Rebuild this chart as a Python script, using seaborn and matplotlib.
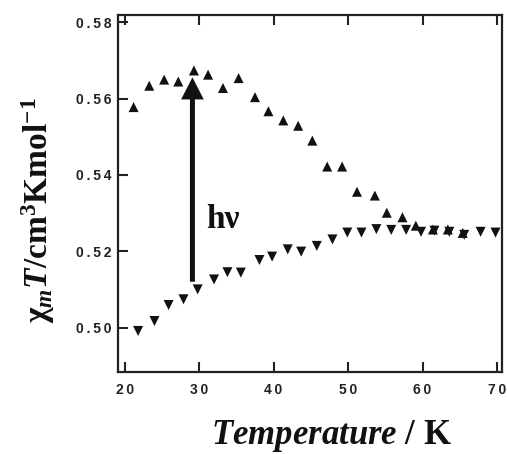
import matplotlib
matplotlib.use("Agg")
import matplotlib.pyplot as plt
import matplotlib.ticker as mticker
import numpy as np
import pandas as pd
import seaborn as sns

# Data
t_up = [21.2, 23.3, 25.3, 27.2, 29.3, 31.2, 33.2, 35.3, 37.5, 39.3, 41.3, 43.3,
        45.2, 47.2, 49.2, 51.2, 53.6, 55.2, 57.3, 59.1, 61.4, 63.4, 65.4]
chi_up = [0.5578, 0.5634, 0.5650, 0.5645, 0.5674, 0.5663, 0.5628, 0.5654, 0.5604,
          0.5567, 0.5543, 0.5529, 0.5490, 0.5422, 0.5422, 0.5356, 0.5346, 0.5301,
          0.5289, 0.5267, 0.5257, 0.5257, 0.5248]
t_down = [21.8, 24.0, 25.9, 27.9, 29.8, 32.0, 33.8, 35.6, 38.1, 39.8, 41.9, 43.7,
          45.8, 47.9, 49.9, 51.8, 53.8, 55.8, 57.8, 59.8, 61.6, 63.6, 65.6, 67.8, 69.8]
chi_down = [0.4991, 0.5017, 0.5059, 0.5074, 0.5100, 0.5126, 0.5145, 0.5144, 0.5177,
            0.5186, 0.5205, 0.5199, 0.5214, 0.5231, 0.5249, 0.5249, 0.5258, 0.5256,
            0.5256, 0.5251, 0.5254, 0.5251, 0.5243, 0.5251, 0.5249]
x_ticks = [20, 30, 40, 50, 60, 70]
y_ticks = [0.50, 0.52, 0.54, 0.56, 0.58]
arrow_x = 29.1
arrow_from = 0.512
arrow_to = 0.5656

sns.set_style("ticks")
plt.rcParams['font.family'] = ['Liberation Sans', 'DejaVu Sans']
plt.rcParams['mathtext.fontset'] = 'custom'
plt.rcParams['mathtext.rm'] = 'Liberation Serif:bold'
plt.rcParams['mathtext.it'] = 'Liberation Serif:bold:italic'
plt.rcParams['mathtext.bf'] = 'Liberation Serif:bold'

df = pd.concat([
    pd.DataFrame({'T': t_up, 'chi': chi_up, 'state': 'up'}),
    pd.DataFrame({'T': t_down, 'chi': chi_down, 'state': 'down'}),
])

fig = plt.figure(figsize=(5.07, 4.54), dpi=100)
ax = fig.add_axes([0.2327, 0.1806, 0.7574, 0.7863])

sns.scatterplot(data=df, x='T', y='chi', style='state', markers={'up': '^', 'down': 'v'},
                color='#111111', s=52, linewidth=0, legend=False, ax=ax)

# Irradiation arrow
ax.arrow(arrow_x, arrow_from, 0, arrow_to - arrow_from, width=0.67, head_width=3.05,
         head_length=0.0058, length_includes_head=True, color='#111111', lw=0)
ax.text(31.0, 0.5261, 'h\u03bd', fontsize=24, fontweight='bold',
        family=['Liberation Serif', 'DejaVu Serif'], color='#111111')

ax.set_xlim(19.1, 70.67)
ax.set_ylim(0.48833, 0.58194)
ax.set_xticks(x_ticks)
ax.set_yticks(y_ticks)
ax.xaxis.set_major_formatter(mticker.FuncFormatter(lambda v, p: '\u2009'.join(f'{v:.0f}')))
ax.yaxis.set_major_formatter(mticker.FuncFormatter(lambda v, p: '\u2009'.join(f'{v:.2f}')))
ax.tick_params(direction='in', length=7, width=1.5, color='#222222', top=True, right=False,
               labelsize=10, labelcolor='#222222')
ax.tick_params(axis='x', pad=8)
ax.tick_params(axis='y', pad=4.5)
for lbl in ax.get_xticklabels() + ax.get_yticklabels():
    lbl.set_fontweight('bold')
for sp in ax.spines.values():
    sp.set_linewidth(1.6)
    sp.set_color('#222222')
ax.set_xlabel('')
ax.set_ylabel('')

fig.text(332 / 507, 1 - 444 / 454, r'$\mathit{Temperature}$ / K', fontsize=25,
         fontweight='bold', family=['Liberation Serif', 'DejaVu Serif'],
         ha='center', va='baseline', color='#111111')
fig.text(38 / 507, 1 - 210 / 454, '\u03c7' + r'$_{m}\mathit{T}$/cm$^{3}$Kmol$^{-1}$',
         fontsize=24, fontweight='bold', family=['Liberation Serif', 'DejaVu Serif'],
         rotation=90, ha='center', va='center', color='#111111')

fig.savefig('out.png', dpi=100)
